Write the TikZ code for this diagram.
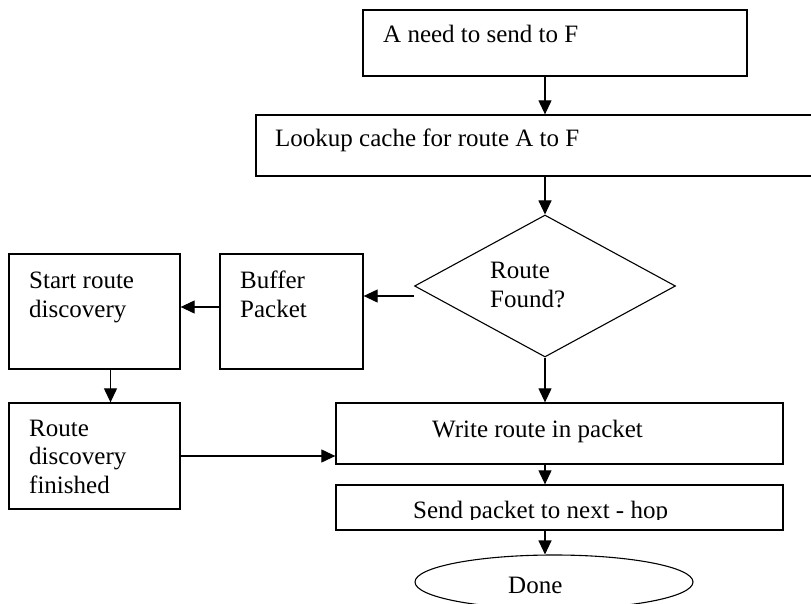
\documentclass[tikz,border=0pt]{standalone}
\usepackage{fontspec}
\setmainfont{Liberation Serif}
\usetikzlibrary{shapes.geometric,arrows.meta}
\begin{document}
\begin{tikzpicture}[x=1pt,y=-1pt,
  box/.style={draw,line width=1.3pt,inner sep=0pt},
  lbl/.style={anchor=base west,inner sep=0pt,align=left,font=\fontsize{25}{28.5}\selectfont},
  arr/.style={line width=1.1pt,-{Triangle[length=14pt,width=13pt]}}]
\useasboundingbox (0,0) rectangle (811,604);
% boxes
\node[box,minimum width=384pt,minimum height=66pt] (b1) at (555,43) {};
\node[box,minimum width=574pt,minimum height=61pt] (b2) at (543,145.5) {};
\node[draw,line width=1.1pt,shape=diamond,inner sep=0pt,minimum width=261pt,minimum height=142pt] (d) at (545,286) {};
\node[box,minimum width=143pt,minimum height=115pt] (buf) at (291.5,311.5) {};
\node[box,minimum width=171pt,minimum height=115pt] (st) at (94.5,311.5) {};
\node[box,minimum width=171pt,minimum height=106pt] (fin) at (94.5,456) {};
\node[box,minimum width=447pt,minimum height=61pt] (wr) at (559.5,433.5) {};
\node[box,minimum width=447pt,minimum height=45pt] (sd) at (559.5,507.5) {};
\node[draw,line width=1.1pt,ellipse,inner sep=0pt,minimum width=278pt,minimum height=54pt] (done) at (554,582) {};
% labels (base = baseline of the last line)
\node[lbl] (t1) at (383,43) {A need to send to F};
\node[lbl] (t2) at (275,147) {Lookup cache for route A to F};
\node[lbl] (t3) at (490,307) {Route\\Found?};
\node[lbl] (t4) at (240,317) {Buffer\\Packet};
\node[lbl] (t5) at (29,317) {Start route\\discovery};
\node[lbl] (t6) at (29,493) {Route\\discovery\\finished};
\node[lbl] (t7) at (432,437) {Write route in packet};
\begin{scope}
\clip (340,488) rectangle (780,519);
\node[lbl] (t8) at (413,518.5) {Send packet to next - hop};
\end{scope}
\node[lbl] (t9) at (508,593) {Done};
% connectors
\draw[arr] (b1.south -| d.north) -- (b2.north -| d.north);
\draw[arr] (b2.south -| d.north) -- (d.north);
\draw[arr] ([yshift=-10pt]d.west) -- ([yshift=-10pt]d.west -| buf.east);
\draw[arr] ([yshift=4.5pt]buf.west) -- ([yshift=4.5pt]buf.west -| st.east);
\draw[arr] ([xshift=16pt]st.south) -- ([xshift=16pt]st.south |- fin.north);
\draw[arr] (fin.east) -- (fin.east -| wr.west);
\draw[arr] (d.south) -- (d.south |- wr.north);
\draw[arr] (wr.south -| d.south) -- (sd.north -| d.south);
\draw[arr] (sd.south -| d.south) -- (done.north -| d.south);
\end{tikzpicture}
\end{document}
